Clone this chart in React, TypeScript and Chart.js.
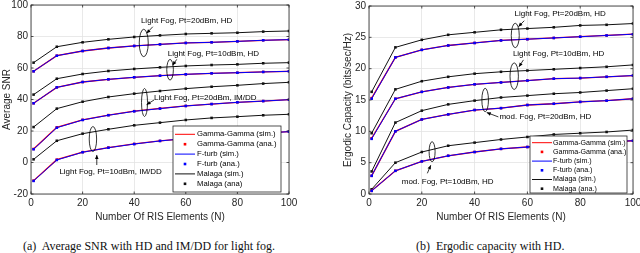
import React, { useEffect, useRef } from 'react';
import { Chart, registerables } from 'chart.js';

Chart.register(...registerables);

const FONT = "'Liberation Sans', Arial, Helvetica, sans-serif";
const SERIF = "'Liberation Serif', 'Times New Roman', serif";

// ---------- data ----------
const nElements = [1, 10, 20, 30, 40, 50, 60, 70, 80, 90, 100];

// (a) Average SNR
const snrMalaga20HD = [63.4, 73.5, 76.3, 78.2, 79.7, 80.7, 81.6, 82.0, 82.4, 83.1, 83.5];
const snrFturb20HD = [57.9, 67.8, 70.8, 72.7, 74.0, 75.0, 75.9, 76.3, 76.9, 77.6, 78.0];
const snrMalaga10HD = [43.1, 53.2, 56.2, 58.1, 59.4, 60.4, 61.3, 61.9, 62.3, 63.0, 63.4];
const snrFturb10HD = [37.6, 47.7, 51.1, 52.8, 54.1, 55.1, 56.0, 56.6, 57.0, 57.5, 57.9];
const snrMalaga20IM = [22.5, 34.2, 38.6, 41.6, 43.7, 45.4, 46.9, 48.1, 49.0, 50.1, 50.9];
const snrFturb20IM = [8.4, 22.1, 27.0, 30.0, 32.5, 34.2, 35.9, 37.1, 38.2, 39.0, 39.9];
const snrMalaga10IM = [2.0, 13.8, 18.3, 21.1, 23.6, 25.3, 27.0, 28.3, 29.1, 30.0, 30.6];
const snrFturb10IM = [-11.7, 1.6, 6.5, 9.4, 11.7, 13.7, 15.2, 16.5, 17.6, 18.6, 19.6];
// Gamma-Gamma coincides with F-turb
const snrGamma20HD = [57.9, 67.8, 70.8, 72.7, 74.0, 75.0, 75.9, 76.3, 76.9, 77.6, 78.0];
const snrGamma10HD = [37.6, 47.7, 51.1, 52.8, 54.1, 55.1, 56.0, 56.6, 57.0, 57.5, 57.9];
const snrGamma20IM = [8.6, 22.3, 27.1, 30.1, 32.6, 34.3, 35.9, 37.1, 38.2, 39.0, 39.9];
const snrGamma10IM = [-11.5, 1.8, 6.6, 9.5, 11.8, 13.7, 15.2, 16.5, 17.6, 18.6, 19.6];

// (b) Ergodic capacity
const capMalaga20HD = [16.3, 23.4, 24.6, 25.4, 25.8, 26.2, 26.4, 26.6, 26.9, 27.0, 27.2];
const capFturb20HD = [15.2, 21.8, 23.0, 23.7, 24.1, 24.5, 24.7, 24.9, 25.1, 25.3, 25.5];
const capMalaga10HD = [9.7, 16.7, 18.0, 18.7, 19.2, 19.5, 19.7, 19.9, 20.1, 20.3, 20.6];
const capFturb10HD = [8.8, 15.2, 16.3, 17.0, 17.5, 17.8, 18.1, 18.4, 18.5, 18.7, 18.9];
const capMalagaMod20 = [3.6, 11.4, 13.3, 14.3, 14.9, 15.4, 15.7, 16.0, 16.2, 16.5, 16.8];
const capFturbMod20 = [2.9, 10.0, 11.9, 12.7, 13.4, 13.7, 14.2, 14.4, 14.7, 14.9, 15.2];
const capMalagaMod10 = [0.75, 5.0, 6.7, 7.7, 8.2, 8.7, 9.1, 9.5, 9.7, 9.9, 10.2];
const capFturbMod10 = [0.5, 3.7, 5.2, 6.1, 6.7, 7.2, 7.5, 7.8, 8.0, 8.3, 8.5];
const capGamma20HD = [15.3, 21.8, 23.0, 23.7, 24.1, 24.5, 24.7, 24.9, 25.1, 25.3, 25.5];
const capGamma10HD = [8.9, 15.2, 16.3, 17.0, 17.5, 17.8, 18.1, 18.4, 18.5, 18.7, 18.9];
const capGammaMod20 = [2.9, 10.0, 11.9, 12.7, 13.4, 13.7, 14.2, 14.4, 14.7, 14.9, 15.2];
const capGammaMod10 = [0.5, 3.7, 5.2, 6.1, 6.7, 7.2, 7.5, 7.8, 8.0, 8.3, 8.5];

const legendLabelsA = ['Gamma-Gamma (sim.)', 'Gamma-Gamma (ana.)', 'F-turb (sim.)', 'F-turb (ana.)', 'Malaga (sim.)', 'Malaga (ana)'];
const legendLabelsB = ['Gamma-Gamma (sim.)', 'Gamma-Gamma (ana.)', 'F-turb (sim.)', 'F-turb (ana.)', 'Malaga (sim.)', 'Malaga (ana.)'];

const RED = '#ff0000';
const BLUE = '#0000ff';
const BLACK = '#111111';

type Group = { gamma: number[]; fturb: number[]; malaga: number[] };

const groupsA: Group[] = [
  { gamma: snrGamma20HD, fturb: snrFturb20HD, malaga: snrMalaga20HD },
  { gamma: snrGamma10HD, fturb: snrFturb10HD, malaga: snrMalaga10HD },
  { gamma: snrGamma20IM, fturb: snrFturb20IM, malaga: snrMalaga20IM },
  { gamma: snrGamma10IM, fturb: snrFturb10IM, malaga: snrMalaga10IM },
];
const groupsB: Group[] = [
  { gamma: capGamma20HD, fturb: capFturb20HD, malaga: capMalaga20HD },
  { gamma: capGamma10HD, fturb: capFturb10HD, malaga: capMalaga10HD },
  { gamma: capGammaMod20, fturb: capFturbMod20, malaga: capMalagaMod20 },
  { gamma: capGammaMod10, fturb: capFturbMod10, malaga: capMalagaMod10 },
];

// annotations: text anchor, ellipse centre and arrow in data coordinates
type Ann = { text: string; t: [number, number]; e: [number, number]; rx: number; ry: number; a0: [number, number]; a1: [number, number] };
const annA: Ann[] = [
  { text: 'Light Fog, Pt=20dBm, HD', t: [42.6, 90.0], e: [43.7, 75.9], rx: 4.5, ry: 13.7, a0: [47.2, 86.2], a1: [44.8, 82.0] },
  { text: 'Light Fog, Pt=10dBm, HD', t: [53.0, 69.1], e: [53.9, 58.9], rx: 3.3, ry: 10.3, a0: [56.5, 65.5], a1: [54.9, 61.7] },
  { text: 'Light Fog, Pt=20dBm, IM/DD', t: [47.7, 40.8], e: [44.0, 38.1], rx: 3, ry: 14, a0: [47.7, 39.7], a1: [44.8, 36.7] },
  { text: 'Light Fog, Pt=10dBm, IM/DD', t: [11.0, -5.8], e: [24.0, 14.9], rx: 3.7, ry: 12.5, a0: [25.5, -1.6], a1: [25.5, 4.8] },
];
const annB: Ann[] = [
  { text: 'Light Fog, Pt=20dBm, HD', t: [55.1, 28.7], e: [55.4, 25.3], rx: 4, ry: 12.2, a0: [58.8, 27.65], a1: [56.6, 26.7] },
  { text: 'Light Fog, Pt=10dBm, HD', t: [54.5, 22.4], e: [55.0, 18.8], rx: 4.2, ry: 13.3, a0: [58.5, 21.4], a1: [56.8, 20.3] },
  { text: 'mod. Fog, Pt=20dBm, HD', t: [49.4, 12.3], e: [44.0, 15.0], rx: 3.3, ry: 11.7, a0: [49.0, 12.3], a1: [44.6, 13.0] },
  { text: 'mod. Fog, Pt=10dBm, HD', t: [12.4, 2.0], e: [23.9, 6.75], rx: 3, ry: 10, a0: [22.1, 3.3], a1: [23.4, 4.6] },
];

type PanelCfg = {
  id: string; left: number; w: number; h: number;
  pad: { top: number; right: number; left: number; bottom: number };
  yWidth: number; yMin: number; yMax: number; yStep: number; yTitle: string; yTitlePad: number;
  groups: Group[]; ann: Ann[]; legend: string[];
  lg: { right: number; bottom: number; w: number; h: number; first: number; step: number; font: number; textX: number };
};

function makeDatasets(groups: Group[]) {
  const ds: any[] = [];
  const mk = (vals: number[], color: string, width: number) => ({
    data: nElements.map((x, i) => ({ x, y: vals[i] })),
    borderColor: color,
    backgroundColor: color,
    borderWidth: width,
    pointStyle: 'rect',
    pointRadius: 1.8,
    pointBorderWidth: 0,
    pointBackgroundColor: color,
    tension: 0,
    fill: false,
  });
  groups.forEach((g) => ds.push(mk(g.fturb, BLUE, 1)));
  groups.forEach((g) => ds.push(mk(g.gamma, RED, 1.3)));
  groups.forEach((g) => ds.push(mk(g.malaga, BLACK, 1)));
  return ds;
}

function drawRect(ctx: CanvasRenderingContext2D, x: number, y: number, color: string) {
  ctx.fillStyle = color;
  ctx.fillRect(x - 1.3, y - 1.3, 2.6, 2.6);
}

function makeDecor(cfg: PanelCfg) {
  return {
    id: 'decor' + cfg.id,
    afterDraw(chart: any) {
      const { ctx, chartArea: a, scales } = chart;
      const xs = scales.x;
      const ys = scales.y;
      ctx.save();
      // axes box + inward ticks
      ctx.strokeStyle = '#262626';
      ctx.lineWidth = 0.8;
      ctx.strokeRect(a.left, a.top, a.right - a.left, a.bottom - a.top);
      ctx.beginPath();
      xs.ticks.forEach((t: any) => {
        const p = xs.getPixelForValue(t.value);
        ctx.moveTo(p, a.bottom); ctx.lineTo(p, a.bottom - 2.5);
        ctx.moveTo(p, a.top); ctx.lineTo(p, a.top + 2.5);
      });
      ys.ticks.forEach((t: any) => {
        const p = ys.getPixelForValue(t.value);
        ctx.moveTo(a.left, p); ctx.lineTo(a.left + 2.5, p);
        ctx.moveTo(a.right, p); ctx.lineTo(a.right - 2.5, p);
      });
      ctx.stroke();

      // annotations
      ctx.strokeStyle = '#000';
      ctx.fillStyle = '#000';
      ctx.lineWidth = 0.8;
      ctx.font = `8px ${FONT}`;
      ctx.textBaseline = 'middle';
      ctx.textAlign = 'left';
      cfg.ann.forEach((an) => {
        const px = (v: [number, number]) => [xs.getPixelForValue(v[0]), ys.getPixelForValue(v[1])];
        const [tx, ty] = px(an.t);
        const [ex, ey] = px(an.e);
        const [x0, y0] = px(an.a0);
        const [x1, y1] = px(an.a1);
        ctx.fillStyle = '#000';
        ctx.fillText(an.text, tx, ty);
        ctx.beginPath();
        ctx.ellipse(ex, ey, an.rx, an.ry, 0, 0, Math.PI * 2);
        ctx.stroke();
        ctx.beginPath();
        ctx.moveTo(x0, y0);
        ctx.lineTo(x1, y1);
        ctx.stroke();
        const ang = Math.atan2(y1 - y0, x1 - x0);
        const L = 4, W = 1.8;
        ctx.beginPath();
        ctx.moveTo(x1, y1);
        ctx.lineTo(x1 - L * Math.cos(ang) + W * Math.sin(ang), y1 - L * Math.sin(ang) - W * Math.cos(ang));
        ctx.lineTo(x1 - L * Math.cos(ang) - W * Math.sin(ang), y1 - L * Math.sin(ang) + W * Math.cos(ang));
        ctx.closePath();
        ctx.fill();
      });

      // legend
      const lg = cfg.lg;
      const bx = a.right - lg.right - lg.w;
      const by = a.bottom - lg.bottom - lg.h;
      ctx.fillStyle = '#fff';
      ctx.fillRect(bx, by, lg.w, lg.h);
      ctx.strokeStyle = '#262626';
      ctx.lineWidth = 0.8;
      ctx.strokeRect(bx, by, lg.w, lg.h);
      const colors = [RED, RED, BLUE, BLUE, BLACK, BLACK];
      ctx.font = `${lg.font}px ${FONT}`;
      cfg.legend.forEach((label, i) => {
        const y = by + lg.first + i * lg.step;
        if (i % 2 === 0) {
          ctx.strokeStyle = colors[i];
          ctx.lineWidth = 1;
          ctx.beginPath();
          ctx.moveTo(bx + 2, y);
          ctx.lineTo(bx + 22, y);
          ctx.stroke();
        } else {
          drawRect(ctx, bx + 12, y, colors[i]);
        }
        ctx.fillStyle = '#000';
        ctx.fillText(label, bx + lg.textX, y);
      });
      ctx.restore();
    },
  };
}

function Panel({ cfg }: { cfg: PanelCfg }) {
  const ref = useRef<HTMLCanvasElement>(null);
  useEffect(() => {
    if (!ref.current) return;
    const chart = new Chart(ref.current, {
      type: 'line',
      data: { datasets: makeDatasets(cfg.groups) },
      options: {
        responsive: false,
        animation: false,
        devicePixelRatio: 1,
        layout: { padding: cfg.pad },
        plugins: { legend: { display: false }, tooltip: { enabled: false }, title: { display: false } },
        scales: {
          x: {
            type: 'linear',
            min: 0,
            max: 100,
            ticks: { stepSize: 20, padding: 3, color: '#262626', font: { family: FONT, size: 10 }, maxRotation: 0 },
            grid: { color: '#e3e3e3', lineWidth: 0.8, drawTicks: false },
            border: { display: false },
            title: { display: true, text: 'Number Of RIS Elements (N)', color: '#262626', font: { family: FONT, size: 10 }, padding: { top: 0, bottom: 5 } },
            afterFit: (s: any) => { s.height = 34; s.paddingLeft = 0; s.paddingRight = 0; },
          },
          y: {
            type: 'linear',
            min: cfg.yMin,
            max: cfg.yMax,
            ticks: { stepSize: cfg.yStep, padding: 3, color: '#262626', font: { family: FONT, size: 10 } },
            grid: { color: '#e3e3e3', lineWidth: 0.8, drawTicks: false },
            border: { display: false },
            title: { display: true, text: cfg.yTitle, color: '#262626', font: { family: FONT, size: 10 }, padding: { top: cfg.yTitlePad, bottom: 0 } },
            afterFit: (s: any) => { s.width = cfg.yWidth; s.paddingTop = 0; s.paddingBottom = 0; },
          },
        },
      } as any,
      plugins: [makeDecor(cfg)],
    });
    return () => chart.destroy();
  }, []);
  return (
    <canvas
      ref={ref}
      width={cfg.w}
      height={cfg.h}
      style={{ position: 'absolute', left: cfg.left, top: 0, width: cfg.w, height: cfg.h }}
    />
  );
}

const cfgA: PanelCfg = {
  id: 'a', left: 0, w: 320, h: 228,
  pad: { top: 5, right: 31, left: 0, bottom: 0 },
  yWidth: 31, yMin: -20, yMax: 100, yStep: 20, yTitle: 'Average SNR', yTitlePad: 1,
  groups: groupsA, ann: annA, legend: legendLabelsA,
  lg: { right: 8, bottom: 2, w: 108, h: 66, first: 8.3, step: 9.9, font: 7.7, textX: 24 },
};
const cfgB: PanelCfg = {
  id: 'b', left: 340, w: 300, h: 228,
  pad: { top: 6, right: 7, left: 0, bottom: 0 },
  yWidth: 29, yMin: 0, yMax: 30, yStep: 5, yTitle: 'Ergodic Capacity (bits/sec/Hz)', yTitlePad: 2,
  groups: groupsB, ann: annB, legend: legendLabelsB,
  lg: { right: 6, bottom: 1, w: 97, h: 57, first: 6.7, step: 9.2, font: 7.1, textX: 23 },
};

export default function App() {
  const cap: React.CSSProperties = { position: 'absolute', top: 238, fontFamily: SERIF, fontSize: 12, lineHeight: '16px', whiteSpace: 'pre', color: '#111' };
  return (
    <div style={{ position: 'fixed', left: 0, top: 0, width: 640, height: 253, background: '#fff', overflow: 'hidden' }}>
      <Panel cfg={cfgA} />
      <Panel cfg={cfgB} />
      <div style={{ ...cap, left: 23 }}>{'(a)  Average SNR with HD and IM/DD for light fog.'}</div>
      <div style={{ ...cap, left: 416 }}>{'(b)  Ergodic capacity with HD.'}</div>
    </div>
  );
}
